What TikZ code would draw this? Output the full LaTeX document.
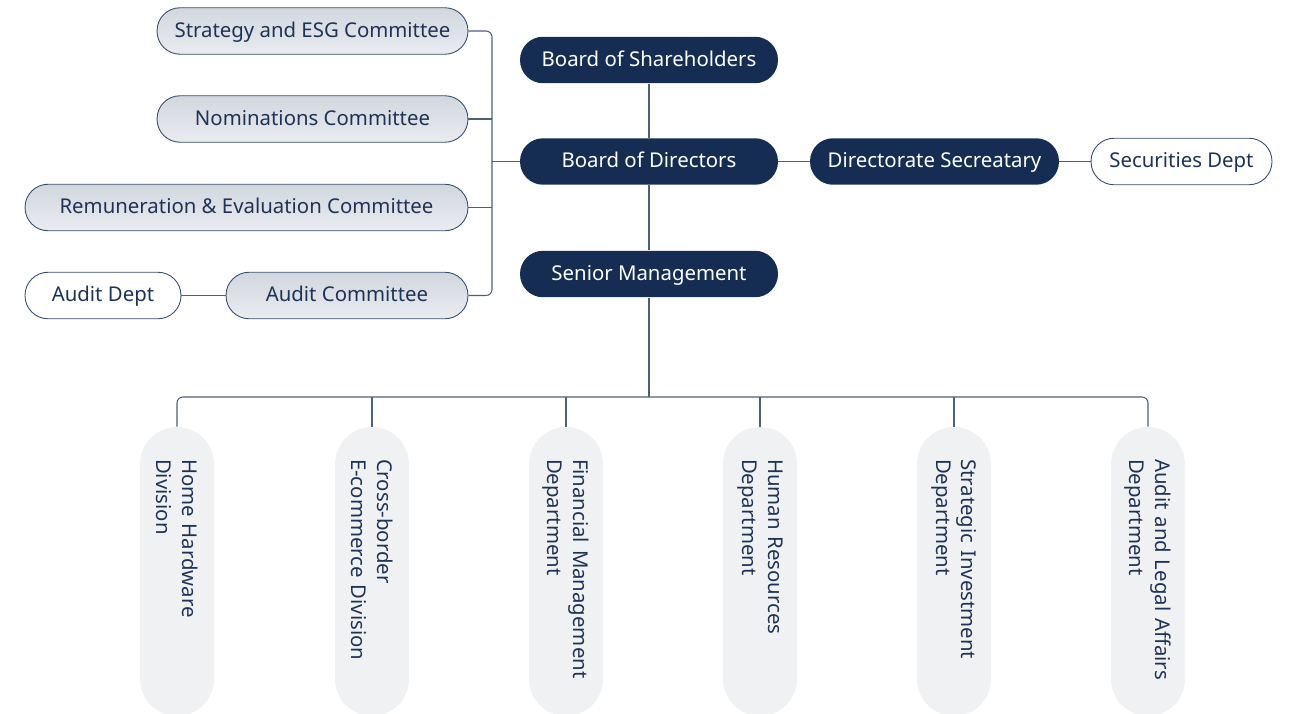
\documentclass[tikz,border=0pt]{standalone}
\usepackage{fontspec}
\setmainfont{Noto Sans}
\usepackage{tikz}

\definecolor{navy}{HTML}{152D52}
\definecolor{ink}{HTML}{1E3456}
\definecolor{wire}{HTML}{4E5F7A}
\definecolor{pale}{HTML}{F0F1F3}
\definecolor{shadetop}{HTML}{D2D7DF}
\definecolor{shadebot}{HTML}{E9EBEF}

\tikzset{
  pill/.style={rounded corners=0.46cm, minimum height=0.93cm, text height=0.95em, text depth=0.25em, font=\fontsize{11.6}{13.6}\selectfont},
  board/.style={pill, fill=navy, text=white, minimum width=5.16cm},
  cmte/.style={pill, draw=navy!85, line width=0.5pt, top color=shadetop, bottom color=shadebot, text=ink},
  dept/.style={pill, draw=navy!85, line width=0.5pt, fill=white, text=ink},
  unit/.style={fill=pale, text=ink, rotate=-90, rounded corners=0.74cm, minimum height=1.48cm, text width=4.5cm, inner xsep=0.64cm, align=left, font=\fontsize{11.6}{14.7}\selectfont},
  link/.style={draw=wire, line width=0.6pt},
}

\begin{document}
\begin{tikzpicture}[x=0.02cm, y=-0.02cm]
\useasboundingbox (0,0) rectangle (1297,713);

% committees on the left
\node (sc) at (312.5, 31) [cmte, minimum width=6.22cm] {Strategy and ESG Committee};
\node (nc) at (312.5, 119) [cmte, minimum width=6.22cm] {Nominations Committee};
\node (rc) at (246.5, 207.5) [cmte, minimum width=8.86cm] {Remuneration \& Evaluation Committee};
\node (ac) at (347, 295.5) [cmte, minimum width=4.84cm] {Audit Committee};
\node (ad) at (103, 295.5) [dept, minimum width=3.12cm] {Audit Dept};

% main line
\node (bs) at (649, 60) [board] {Board of Shareholders};
\node (bd) at (649, 161.5) [board] {Board of Directors};
\node (sm) at (649, 274) [board] {Senior Management};
\node (ds) at (934.5, 161.5) [board, minimum width=4.98cm] {Directorate Secreatary};
\node (sd) at (1181.5, 161.5) [dept, minimum width=3.62cm] {Securities Dept};

% departments
\node (u1) at (177, 571.5) [unit] {Home Hardware\\Division};
\node (u2) at (372, 571.5) [unit] {Cross-border\\E-commerce Division};
\node (u3) at (566, 571.5) [unit] {Financial Management\\Department};
\node (u4) at (760, 571.5) [unit] {Human Resources\\Department};
\node (u5) at (954, 571.5) [unit] {Strategic Investment\\Department};
\node (u6) at (1148, 571.5) [unit] {Audit and Legal Affairs\\Department};

\coordinate (cj) at (492, 161.5);
\coordinate (bus) at (649, 397);

\draw[link, rounded corners=0.12cm] (sc.east) -| (cj |- ac.east) -- (ac.east);
\draw[link] (nc.east) -- (nc.east -| cj);
\draw[link] (rc.east) -- (rc.east -| cj);
\draw[link] (cj) -- (bd.west);
\draw[link] (ad.east) -- (ac.west);

\draw[link] (bs) -- (bd);
\draw[link] (bd) -- (sm);
\draw[link] (bd) -- (ds);
\draw[link] (ds) -- (sd);

\draw[link] (sm) -- (bus);
\draw[link, rounded corners=0.12cm] (u1.west) |- (bus) -| (u6.west);
\foreach \u in {u2, u3, u4, u5}
  \draw[link] (\u.west) -- (\u.west |- bus);
\end{tikzpicture}
\end{document}
